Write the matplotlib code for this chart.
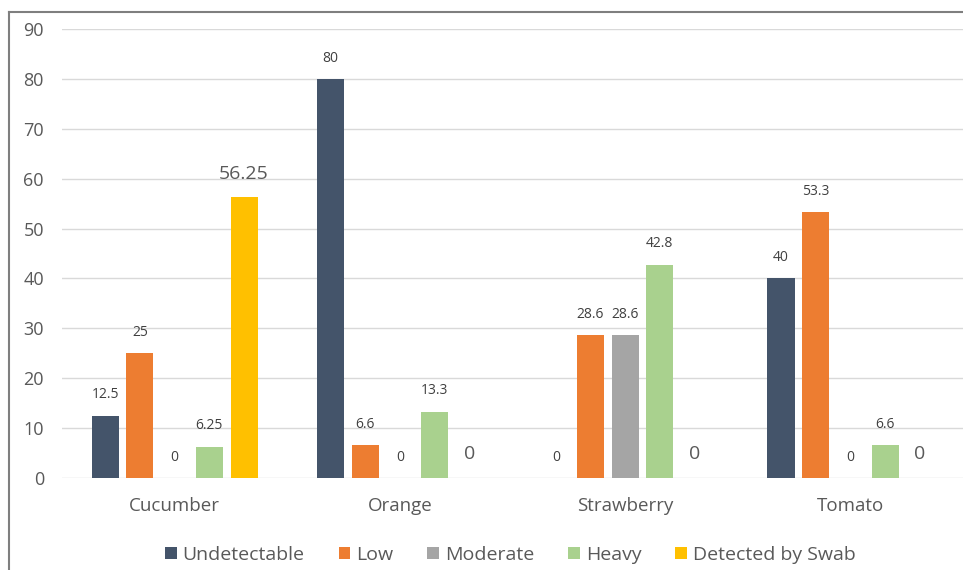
import numpy as np
import matplotlib
matplotlib.use("Agg")
import matplotlib.pyplot as plt
from matplotlib.lines import Line2D

plt.rcParams["font.family"] = ["Open Sans", "DejaVu Sans"]

categories = ["Cucumber", "Orange", "Strawberry", "Tomato"]
series = ["Undetectable", "Low", "Moderate", "Heavy", "Detected by Swab"]
undetectable = [12.5, 80, 0, 40]
low = [25, 6.6, 28.6, 53.3]
moderate = [0, 0, 28.6, 0]
heavy = [6.25, 13.3, 42.8, 6.6]
swab = [56.25, 0, 0, 0]
label_text = [
    ["12.5", "80", "0", "40"],
    ["25", "6.6", "28.6", "53.3"],
    ["0", "0", "28.6", "0"],
    ["6.25", "13.3", "42.8", "6.6"],
    ["56.25", "0", "0", "0"],
]
yticks = [0, 10, 20, 30, 40, 50, 60, 70, 80, 90]

colors = ["#44546A", "#ED7D31", "#A5A5A5", "#A9D18E", "#FFC000"]
TXT = "#595959"
LBL = "#404040"

fig = plt.figure(figsize=(9.63, 5.70), dpi=100)
ax = fig.add_axes([0.0644, 0.1614, 0.9356, 0.7876])

x = np.arange(len(categories))
step = 0.154
width = 0.12
values = [undetectable, low, moderate, heavy, swab]
handles = []
for i, (name, vals, col) in enumerate(zip(series, values, colors)):
    xs = x + (i - 2) * step
    bars = ax.bar(xs, vals, width, color=col, zorder=3, label=name)
    handles.append(bars)
    big = (i == 4)
    for xx, v, t in zip(xs, vals, label_text[i]):
        ax.annotate(t, xy=(xx, v), xytext=(0, 17 if big else 15),
                    textcoords="offset points", ha="center", va="center",
                    fontsize=14 if big else 10, color=TXT if big else LBL,
                    zorder=4)

ax.set_xlim(-0.5, 3.5)
ax.set_ylim(0, 90)
ax.set_yticks(yticks)
ax.set_xticks(x)
ax.set_xticklabels(categories)
ax.grid(axis="y", color="#D9D9D9", lw=1, zorder=0)
for sp in ax.spines.values():
    sp.set_visible(False)
ax.tick_params(axis="y", length=0, labelsize=13, colors=TXT, pad=13)
ax.tick_params(axis="x", length=0, labelsize=13.5, colors=TXT, pad=14)

leg = fig.legend(handles=handles, labels=series, loc="center",
                 bbox_to_anchor=(0.530, 0.027), ncol=5, frameon=False,
                 fontsize=14, handlelength=0.6, handleheight=0.6,
                 handletextpad=0.3, columnspacing=1.75)
for t in leg.get_texts():
    t.set_color(TXT)

# outer frame: top and left edges
fig.add_artist(Line2D([0.0093, 1.0], [0.979, 0.979], color="#7F7F7F", lw=1.5,
                      transform=fig.transFigure))
fig.add_artist(Line2D([0.0093, 0.0093], [0.0, 0.979], color="#7F7F7F", lw=1.5,
                      transform=fig.transFigure))

fig.savefig("out.png", dpi=100, facecolor="white")
